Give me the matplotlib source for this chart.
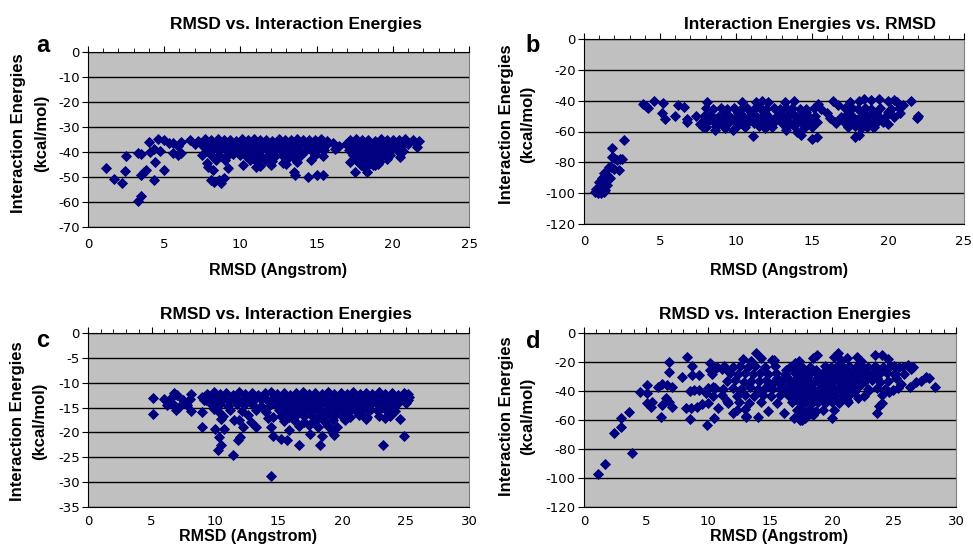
import numpy as np
from matplotlib import pyplot as plt
from matplotlib.ticker import MultipleLocator

plt.rcParams['font.family'] = ['Liberation Sans', 'DejaVu Sans']
plt.rcParams['axes.unicode_minus'] = False

W, H = 973, 550

# ---- panel a : RMSD vs interaction energy (kcal/mol)
pts_a = [
    (1.2, -46.3), (1.7, -50.8), (2.2, -52.3), (2.5, -41.5), (2.4, -47.5), (3.3, -40.5),
    (3.5, -40.8), (3.5, -49.0), (3.7, -48.0), (3.8, -47.2), (3.3, -59.5), (3.5, -57.6),
    (4.0, -35.9), (4.05, -40.0), (4.3, -39.0), (4.4, -44.0), (4.3, -51.0), (5.0, -47.0),
    (4.7, -39.5), (4.6, -35.0), (5.0, -35.3), (5.3, -36.5), (5.6, -36.2), (5.6, -40.5),
    (5.9, -41.0), (6.1, -40.5), (6.1, -36.0), (5.9, -37.5),
    (7.5, -41.0), (7.8, -44.3), (7.9, -46.0), (8.1, -51.2), (8.3, -52.0), (8.6, -51.0),
    (8.7, -52.3), (8.9, -50.5), (8.2, -47.0), (9.2, -46.3), (13.6, -49.0), (13.5, -48.0),
    (14.45, -49.9), (15.0, -49.0), (15.4, -49.0), (13.0, -44.8), (13.7, -44.0), (14.6, -43.0),
    (17.2, -43.9), (17.5, -47.9), (18.3, -47.9), (18.2, -46.5), (18.8, -45.0), (20.5, -41.9),
    (21.6, -37.9), (21.7, -35.5), (10.2, -45.0), (11.0, -46.0), (11.3, -45.5), (12.0, -45.0),
    (12.8, -44.5),
    (6.7, -35.2), (7.2, -35.6), (7.7, -35.0), (8.1, -35.3), (8.5, -34.9), (8.9, -35.4),
    (9.3, -35.1), (9.7, -35.5), (10.1, -34.9), (10.5, -35.3), (10.9, -35.0), (11.3, -35.4),
    (11.7, -35.1), (12.1, -35.5), (12.5, -35.0), (12.9, -35.3), (13.3, -35.2), (13.7, -35.0),
    (14.1, -35.4), (14.5, -35.1), (14.9, -35.3), (15.3, -35.0), (15.7, -35.6), (16.1, -36.3),
    (17.2, -35.4), (17.6, -35.0), (18.0, -35.3), (18.4, -35.1), (18.8, -35.5), (19.2, -35.0),
    (19.6, -35.3), (20.0, -35.1), (20.4, -35.4), (20.8, -35.0), (21.3, -35.2),
    (7.0, -37.0), (7.5, -37.3), (8.0, -36.8), (8.4, -37.4), (8.8, -37.0), (9.2, -37.5),
    (9.6, -36.9), (10.0, -37.3), (10.4, -37.1), (10.8, -37.6), (11.2, -36.8), (11.6, -37.2),
    (12.0, -37.5), (12.4, -36.9), (12.8, -37.3), (13.2, -37.0), (13.6, -37.4), (14.0, -36.8),
    (14.4, -37.2), (14.8, -37.6), (15.2, -37.0), (15.6, -37.3), (16.5, -37.5), (16.9, -36.9),
    (17.3, -37.2), (17.7, -37.6), (18.1, -36.9), (18.5, -37.3), (18.9, -37.0), (19.3, -37.4),
    (19.7, -36.8), (20.1, -37.2), (20.6, -37.5), (21.0, -36.9),
    (7.8, -39.2), (8.2, -38.8), (8.6, -39.5), (9.0, -39.0), (9.4, -39.4), (9.8, -38.9),
    (10.2, -39.6), (10.6, -39.1), (11.0, -39.4), (11.4, -38.8), (11.8, -39.3), (12.2, -39.7),
    (12.6, -39.0), (13.0, -39.4), (13.4, -38.9), (13.8, -39.5), (14.3, -39.1), (14.7, -39.6),
    (15.1, -39.0), (15.5, -39.4), (16.2, -39.0), (17.1, -39.3), (17.5, -39.7), (17.9, -39.0),
    (18.3, -39.5), (18.7, -39.1), (19.1, -39.6), (19.5, -39.0), (19.9, -39.4), (20.3, -39.2),
    (20.7, -39.6),
    (8.1, -41.3), (8.6, -41.0), (9.1, -41.6), (9.5, -40.9), (10.0, -41.4), (10.4, -41.8),
    (10.9, -41.1), (11.3, -41.5), (11.8, -41.0), (12.3, -41.7), (12.7, -41.2), (13.1, -41.6),
    (13.5, -40.8), (14.0, -41.3), (14.9, -41.0), (15.4, -41.5), (17.4, -41.2), (17.8, -41.7),
    (18.2, -41.0), (18.6, -41.5), (19.0, -41.2), (19.4, -41.7), (19.8, -41.0),
    (8.4, -43.0), (9.0, -43.4), (10.6, -43.2), (11.0, -43.6), (11.6, -43.0), (12.1, -43.5),
    (13.0, -43.1), (13.6, -42.8), (17.6, -43.2), (18.0, -43.6), (18.4, -43.0), (18.8, -43.5),
    (19.2, -43.1), (19.6, -42.7),
    (17.9, -45.2), (18.3, -45.6), (18.7, -45.0), (19.0, -44.8),
]

# ---- panel b
pts_b = [
    (0.7, -99.0), (0.9, -100.0), (1.1, -100.0), (1.3, -99.5), (0.8, -97.0), (1.0, -96.5),
    (1.2, -97.5), (1.4, -98.0), (1.0, -93.0), (1.2, -94.0), (1.5, -95.0), (1.3, -92.0),
    (0.9, -99.0), (1.1, -98.0), (1.4, -89.3), (1.6, -91.0), (1.64, -82.8), (2.0, -84.0),
    (1.86, -76.3), (2.2, -78.5), (2.3, -85.0), (1.86, -70.7), (2.63, -65.5), (1.5, -88.0),
    (1.3, -87.0), (2.4, -77.8), (1.7, -90.0), (1.2, -90.0), (2.0, -77.0), (2.5, -78.0),
    (1.8, -83.0),
    (3.9, -42.0), (4.2, -45.0), (4.6, -40.0), (5.2, -41.5), (5.1, -48.0), (5.3, -52.0),
    (6.0, -50.0), (6.2, -43.0), (6.6, -44.0), (6.8, -52.0), (6.8, -54.0), (7.4, -50.0),
    (7.6, -55.0), (7.8, -57.0), (8.1, -41.0), (8.0, -45.0), (4.1, -43.5),
    (11.1, -63.0), (14.3, -62.0), (15.0, -65.0), (15.3, -63.5), (17.8, -63.5), (18.1, -62.0),
    (20.0, -55.0), (19.0, -57.0), (9.8, -59.0), (8.6, -59.0), (21.5, -40.0), (22.0, -50.0),
    (21.9, -51.0), (20.8, -48.0), (16.0, -48.0), (16.5, -54.0), (16.4, -40.0), (16.7, -43.0),
    (14.0, -60.0), (13.3, -59.0), (16.2, -51.0),
    (10.4, -41.0), (11.3, -41.0), (11.7, -40.5), (12.1, -41.0), (13.2, -41.0), (13.8, -40.0),
    (15.4, -42.0), (17.5, -41.0), (18.1, -40.0), (18.4, -39.0), (18.9, -39.5), (19.4, -39.0),
    (20.0, -40.0), (20.4, -39.5), (20.6, -41.0), (21.0, -43.0),
    (8.5, -45.3), (9.0, -44.8), (9.4, -45.6), (9.9, -44.6), (10.3, -45.2), (10.7, -44.5),
    (11.2, -45.5), (11.6, -44.9), (12.0, -45.4), (12.5, -44.7), (12.9, -45.6), (13.3, -45.0),
    (13.7, -44.6), (14.2, -45.5), (14.6, -45.1), (15.1, -44.5), (15.6, -45.3), (17.2, -45.0),
    (17.6, -44.6), (18.0, -45.4), (18.5, -44.8), (18.9, -45.5), (19.5, -44.9), (20.2, -45.6),
    (20.7, -44.7),
    (9.2, -47.6), (10.1, -47.9), (11.0, -47.4), (11.9, -47.8), (12.8, -47.5), (13.7, -47.9),
    (14.6, -47.3), (17.4, -47.7), (18.3, -47.4), (19.2, -47.8), (20.0, -47.5),
    (7.9, -50.2), (8.3, -49.6), (8.8, -50.5), (9.2, -49.8), (9.6, -50.4), (10.1, -49.5),
    (10.5, -50.6), (10.9, -49.9), (11.4, -50.3), (11.8, -49.6), (12.2, -50.5), (12.7, -49.8),
    (13.1, -50.2), (13.5, -49.5), (14.0, -50.6), (14.4, -49.9), (14.8, -50.3), (15.2, -49.7),
    (16.9, -50.4), (17.3, -49.6), (17.7, -50.5), (18.2, -49.8), (18.6, -50.2), (19.0, -49.5),
    (19.4, -50.6), (19.9, -49.9), (20.4, -50.3),
    (8.6, -52.2), (9.5, -52.5), (10.4, -52.0), (11.3, -52.4), (12.2, -52.1), (13.1, -52.6),
    (14.0, -52.2), (14.9, -52.5), (17.5, -52.2), (18.4, -52.5), (19.3, -52.0),
    (7.7, -54.2), (8.1, -53.6), (8.6, -54.5), (9.0, -53.8), (9.5, -54.4), (9.9, -53.5),
    (10.3, -54.6), (10.8, -53.9), (11.2, -54.3), (11.7, -53.6), (12.1, -54.5), (12.5, -53.8),
    (13.0, -54.2), (13.4, -53.5), (13.9, -54.6), (14.3, -53.9), (14.7, -54.3), (15.3, -53.7),
    (16.6, -54.4), (17.1, -53.6), (17.5, -54.5), (17.9, -53.8), (18.3, -54.2), (18.7, -53.5),
    (19.2, -54.6), (19.7, -53.9),
    (8.0, -57.2), (8.7, -56.6), (9.3, -57.5), (10.0, -56.8), (10.6, -57.4), (11.5, -56.5),
    (11.9, -57.6), (12.4, -56.9), (13.3, -57.3), (13.8, -56.6), (14.5, -57.5), (15.0, -56.8),
    (17.4, -57.4), (17.8, -56.5), (18.2, -57.6), (18.6, -56.9), (19.1, -57.3),
]

# ---- panel c
pts_c = [
    (5.1, -13.0), (5.1, -16.2), (6.0, -13.3), (6.2, -14.5), (6.5, -13.0), (6.8, -12.0),
    (6.9, -15.5), (7.0, -12.5), (7.5, -13.5), (7.8, -14.5), (8.1, -12.3), (8.1, -15.6),
    (8.0, -13.2), (9.0, -12.8), (9.0, -15.8), (9.0, -19.0), (9.3, -13.5), (9.9, -15.3),
    (10.0, -19.3), (10.2, -23.5), (10.3, -21.0), (10.5, -22.5), (10.7, -19.3), (10.5, -17.3),
    (11.4, -24.5), (11.8, -21.5), (12.0, -21.0), (12.2, -19.0), (12.8, -18.0), (13.2, -19.0),
    (11.5, -17.5), (11.9, -17.5), (14.4, -28.8), (14.6, -20.7), (14.4, -19.0), (15.2, -21.3),
    (15.7, -21.6), (16.6, -22.5), (17.5, -20.3), (18.3, -22.5), (18.4, -20.8), (19.2, -20.0),
    (19.4, -20.6), (19.6, -19.0), (23.2, -22.5), (24.9, -20.8), (24.6, -17.2), (15.8, -19.5),
    (14.2, -17.0), (6.6, -14.0), (7.2, -14.8), (25.3, -12.8), (25.2, -12.2),
    (9.4, -12.2), (9.9, -11.9), (10.4, -12.3), (10.9, -12.0), (11.4, -12.4), (11.9, -11.9),
    (12.4, -12.2), (12.9, -12.0), (13.4, -12.4), (13.9, -12.1), (14.4, -11.9), (14.9, -12.3),
    (15.4, -12.0), (15.9, -12.4), (16.4, -12.1), (16.9, -11.9), (17.4, -12.3), (17.9, -12.0),
    (18.4, -12.2), (18.9, -11.9), (19.4, -12.3), (19.9, -12.0), (20.4, -12.2), (20.9, -11.9),
    (21.4, -12.3), (21.9, -12.0), (22.4, -12.2), (22.9, -11.9), (23.4, -12.3), (23.9, -12.0),
    (24.4, -12.4), (24.9, -12.1),
    (9.1, -13.4), (9.6, -13.1), (10.1, -13.5), (10.6, -13.2), (11.1, -13.6), (11.6, -13.1),
    (12.1, -13.4), (12.6, -13.0), (13.1, -13.5), (13.6, -13.2), (14.1, -13.4), (14.6, -13.1),
    (15.1, -13.5), (15.6, -13.2), (16.1, -13.4), (16.6, -13.0), (17.1, -13.5), (17.6, -13.2),
    (18.1, -13.4), (18.6, -13.1), (19.1, -13.5), (19.6, -13.2), (20.1, -13.4), (20.6, -13.0),
    (21.1, -13.5), (21.6, -13.2), (22.1, -13.4), (22.6, -13.1), (23.1, -13.5), (23.6, -13.2),
    (24.1, -13.4), (24.6, -13.1), (25.2, -13.4),
    (9.8, -14.5), (10.4, -14.2), (11.0, -14.6), (11.7, -14.3), (12.3, -14.5), (12.9, -14.2),
    (13.6, -14.6), (14.3, -14.4), (14.8, -14.5), (15.3, -14.2), (15.8, -14.6), (16.3, -14.3),
    (16.8, -14.5), (17.3, -14.2), (17.8, -14.6), (18.3, -14.3), (18.8, -14.5), (19.3, -14.2),
    (19.8, -14.6), (20.3, -14.3), (20.8, -14.5), (21.3, -14.2), (21.8, -14.6), (22.3, -14.3),
    (22.8, -14.5), (23.3, -14.2), (23.8, -14.6), (24.3, -14.3), (25.0, -14.0),
    (10.2, -15.6), (11.2, -15.4), (12.1, -15.7), (13.2, -15.5), (14.0, -15.8), (15.0, -15.4),
    (15.5, -15.7), (16.0, -15.5), (16.5, -15.8), (17.0, -15.4), (17.5, -15.6), (18.0, -15.5),
    (18.5, -15.8), (19.0, -15.4), (19.5, -15.7), (20.0, -15.5), (20.5, -15.8), (21.0, -15.4),
    (21.6, -15.6), (22.2, -15.5), (22.8, -15.7), (23.5, -15.4), (24.2, -15.6),
    (10.6, -16.7), (12.6, -16.5), (14.6, -16.8), (15.2, -16.6), (15.8, -16.9), (16.4, -16.5),
    (17.0, -16.7), (17.6, -16.6), (18.2, -16.9), (18.8, -16.5), (19.4, -16.7), (20.0, -16.6),
    (20.6, -16.9), (21.3, -16.5), (22.0, -16.8), (22.9, -16.6), (23.8, -16.7),
    (15.4, -17.8), (16.2, -17.6), (17.0, -17.9), (17.8, -17.7), (18.6, -17.8), (19.3, -17.6),
    (20.2, -17.5), (21.9, -17.2), (23.4, -17.0),
    (16.6, -18.8), (17.4, -18.6), (18.1, -18.9), (18.9, -18.7),
]

# ---- panel d
pts_d = [
    (1.13, -97.5), (1.69, -90.6), (2.39, -69.2), (2.96, -64.6), (2.96, -58.4), (3.63, -54.5),
    (3.84, -83.0), (4.5, -40.9), (5.1, -35.9), (5.1, -41.6), (5.1, -48.5), (5.4, -50.8),
    (5.5, -47.3), (5.97, -37.0), (6.3, -35.0), (6.7, -35.9), (7.1, -37.0), (6.3, -49.7),
    (6.6, -45.0), (6.85, -47.4), (7.1, -50.8), (6.2, -57.7), (6.85, -19.8), (6.85, -26.7),
    (7.9, -30.0), (8.3, -16.3), (8.7, -22.8), (8.7, -29.0), (8.55, -39.8), (8.9, -39.3),
    (8.2, -51.9), (8.6, -51.9), (9.1, -50.8), (8.55, -59.5), (9.3, -29.0), (9.3, -39.3),
    (9.8, -41.6), (10.2, -20.5), (10.2, -25.5), (9.95, -63.5), (10.5, -58.9), (10.6, -24.5),
    (11.1, -25.0), (11.6, -26.0), (9.5, -49.0), (10.0, -48.5), (10.8, -51.5), (10.4, -37.5),
    (13.9, -14.0), (18.8, -15.2), (23.5, -15.0), (20.0, -58.8), (23.6, -55.0), (23.8, -50.0),
    (24.0, -48.5), (28.3, -37.0), (27.6, -30.0), (27.8, -31.0), (26.1, -22.0), (26.4, -25.0),
    (26.5, -23.2), (25.3, -38.0), (25.0, -22.7), (25.1, -28.0), (25.2, -31.0), (25.6, -35.0),
    (24.9, -39.3), (24.6, -40.5), (25.8, -28.0), (26.8, -34.0), (27.2, -33.0), (26.3, -37.0),
    (14.06, -57.7), (13.1, -57.7), (16.1, -55.4), (16.9, -58.8), (17.4, -60.0), (17.8, -58.8),
    (17.6, -60.0), (21.2, -46.2), (22.1, -45.0), (23.0, -39.3), (20.5, -14.0), (22.0, -16.3),
    (24.0, -15.2), (15.3, -18.6), (17.0, -21.0), (25.7, -23.2), (12.0, -55.0), (11.5, -47.0),
    (12.8, -18.0), (13.5, -19.0), (14.3, -17.5), (15.2, -18.5), (17.3, -19.0), (18.5, -17.5),
    (20.2, -16.5), (20.7, -18.5), (21.2, -17.0), (22.3, -19.0), (24.5, -18.0),
    (10.7, -23.2), (11.3, -22.6), (12.0, -23.5), (12.6, -22.8), (13.2, -23.4), (13.8, -22.5),
    (14.6, -23.6), (15.4, -22.9), (16.6, -23.3), (17.5, -22.6), (18.2, -23.5), (19.4, -22.8),
    (19.9, -23.4), (20.4, -22.5), (20.9, -23.6), (21.4, -22.9), (21.9, -23.3), (22.4, -22.6),
    (22.9, -23.5), (23.5, -22.8), (24.1, -23.4), (24.7, -22.5), (25.4, -23.3),
    (16.3, -25.7), (17.1, -25.4), (17.9, -25.9), (18.7, -25.5), (19.5, -25.8), (20.3, -25.3),
    (21.1, -25.7), (21.9, -25.4), (22.7, -25.9), (23.6, -25.5),
    (10.3, -28.2), (11.8, -27.6), (12.4, -28.5), (13.0, -27.8), (13.6, -28.4), (14.2, -27.5),
    (14.8, -28.6), (15.5, -27.9), (16.2, -28.3), (17.0, -27.6), (17.6, -28.5), (18.2, -27.8),
    (18.8, -28.2), (19.3, -27.5), (19.8, -28.6), (20.3, -27.9), (20.8, -28.3), (21.3, -27.6),
    (21.8, -28.5), (22.3, -27.8), (22.8, -28.2), (23.3, -27.5), (23.8, -28.6), (24.4, -27.9),
    (25.0, -28.3),
    (15.6, -30.7), (16.4, -30.4), (17.2, -30.9), (18.0, -30.5), (18.8, -30.8), (19.6, -30.3),
    (20.4, -30.7), (21.2, -30.4), (22.0, -30.9), (22.8, -30.5), (23.6, -30.8),
    (11.5, -33.2), (12.2, -32.6), (12.9, -33.5), (13.5, -32.8), (14.1, -33.4), (14.7, -32.5),
    (15.3, -33.6), (15.9, -32.9), (16.5, -33.3), (17.1, -32.6), (17.6, -33.5), (18.1, -32.8),
    (18.6, -33.2), (19.1, -32.5), (19.6, -33.6), (20.1, -32.9), (20.6, -33.3), (21.1, -32.6),
    (21.6, -33.5), (22.1, -32.8), (22.7, -33.2), (23.2, -32.5), (23.9, -33.6), (24.5, -32.9),
    (15.1, -35.7), (15.9, -35.4), (16.7, -35.9), (17.5, -35.5), (18.3, -35.8), (19.1, -35.3),
    (19.9, -35.7), (20.7, -35.4), (21.5, -35.9), (22.3, -35.5),
    (10.0, -38.2), (10.6, -37.6), (11.2, -38.5), (12.0, -37.8), (12.7, -38.4), (13.4, -37.5),
    (14.0, -38.6), (14.6, -37.9), (15.2, -38.3), (15.8, -37.6), (16.4, -38.5), (17.0, -37.8),
    (17.5, -38.2), (18.0, -37.5), (18.5, -38.6), (19.0, -37.9), (19.5, -38.3), (20.0, -37.6),
    (20.5, -38.5), (21.0, -37.8), (21.5, -38.2), (22.1, -37.5), (22.9, -38.6), (23.6, -37.9),
    (24.3, -38.3),
    (16.2, -40.7), (17.0, -40.4), (17.8, -40.9), (18.6, -40.5), (19.4, -40.8), (20.2, -40.3),
    (21.0, -40.7), (21.8, -40.4),
    (10.4, -43.2), (11.1, -42.6), (12.3, -43.5), (13.0, -42.8), (13.7, -43.4), (14.4, -42.5),
    (15.1, -43.6), (15.8, -42.9), (16.5, -43.3), (17.2, -42.6), (17.7, -43.5), (18.2, -42.8),
    (18.7, -43.2), (19.2, -42.5), (19.7, -43.6), (20.2, -42.9), (20.8, -43.3), (21.4, -42.6),
    (22.6, -43.5), (24.0, -42.8),
    (17.0, -45.7), (17.8, -45.4), (18.6, -45.9), (19.4, -45.5), (20.2, -45.8),
    (11.6, -48.2), (12.5, -47.6), (13.3, -48.5), (14.3, -47.8), (15.6, -48.4), (16.8, -47.5),
    (17.4, -48.6), (17.9, -47.9), (18.4, -48.3), (18.9, -47.6), (19.4, -48.5), (20.0, -47.8),
    (20.6, -48.2), (21.3, -47.5),
    (12.3, -53.2), (13.0, -52.6), (14.8, -53.5), (17.2, -52.8), (17.7, -53.4), (18.2, -52.5),
    (18.7, -53.6), (19.3, -52.9), (20.2, -53.3),
    (13.1, -57.2), (17.5, -56.6), (18.0, -57.5), (18.5, -56.8),
]

y_ticks_a = np.arange(-70, 1, 10)
y_ticks_b = np.arange(-120, 1, 20)
y_ticks_c = np.arange(-35, 1, 5)
y_ticks_d = np.arange(-120, 1, 20)


def fx(px):
    return px / W


def fy(py):
    return 1 - py / H


def panel(box, pts, xmax, yticks, xpad=4):
    l, t, r, b = box
    ax = fig.add_axes([fx(l), fy(b), fx(r) - fx(l), fy(t) - fy(b)])
    ax.set_facecolor('#c0c0c0')
    rmsd, energy = np.array(pts).T
    ax.plot(rmsd, energy, linestyle='none', marker='D', ms=5.3,
            mec='#000080', mew=0.6, mfc='#000080', zorder=3)
    ax.set_xlim(0, xmax)
    ax.set_ylim(yticks[0], 0)
    ax.set_yticks(yticks)
    ax.set_xticks(np.arange(0, xmax + 1, 5))
    ax.xaxis.set_minor_locator(MultipleLocator(1))
    ax.yaxis.grid(True, color='black', lw=1)
    ax.set_axisbelow(True)
    ax.tick_params(axis='x', which='both', bottom=False, top=True, labelbottom=True,
                   labeltop=False, direction='out', pad=xpad)
    ax.tick_params(axis='x', which='major', length=4)
    ax.tick_params(axis='x', which='minor', length=3)
    ax.tick_params(axis='y', direction='out', length=4, pad=2)
    for lab in ax.get_xticklabels() + ax.get_yticklabels():
        lab.set_family('DejaVu Sans')
        lab.set_fontsize(9.5)
    for s in ['left', 'top', 'bottom']:
        ax.spines[s].set_color('black')
    ax.spines['right'].set_color('#808080')
    return ax


fig = plt.figure(figsize=(W / 100, H / 100), dpi=100)

panel((88, 52, 469, 227), pts_a, 25, y_ticks_a)
panel((584, 39, 964, 224), pts_b, 25, y_ticks_b)
panel((88, 333, 469, 507), pts_c, 30, y_ticks_c, xpad=2)
panel((584, 333, 956, 507), pts_d, 30, y_ticks_d, xpad=2)

bold = dict(fontweight='bold', color='black')
titles = [('RMSD vs. Interaction Energies', 296, 29),
          ('Interaction Energies vs. RMSD', 810, 29),
          ('RMSD vs. Interaction Energies', 286, 319),
          ('RMSD vs. Interaction Energies', 785, 319)]
for txt, x, y in titles:
    fig.text(fx(x), fy(y), txt, ha='center', va='baseline', fontsize=12.5, **bold)

for letter, x, y in [('a', 43, 52), ('b', 533, 52), ('c', 43, 347), ('d', 533, 348)]:
    fig.text(fx(x), fy(y), letter, ha='center', va='baseline', fontsize=17, **bold)

# y labels: two separate lines (x1, x2, y centre)
for x1, x2, y in [(19, 42, 133), (507, 528, 124), (18, 40, 421), (507, 528, 416)]:
    fig.text(fx(x1), fy(y), 'Interaction Energies', rotation=90,
             ha='center', va='center', fontsize=12, **bold)
    fig.text(fx(x2), fy(y), '(kcal/mol)', rotation=90,
             ha='center', va='center', fontsize=12, **bold)

for x, y in [(278, 275), (779, 275), (248, 541), (779, 541)]:
    fig.text(fx(x), fy(y), 'RMSD (Angstrom)', ha='center', va='baseline', fontsize=11.5, **bold)

fig.savefig('out.png', dpi=100)
